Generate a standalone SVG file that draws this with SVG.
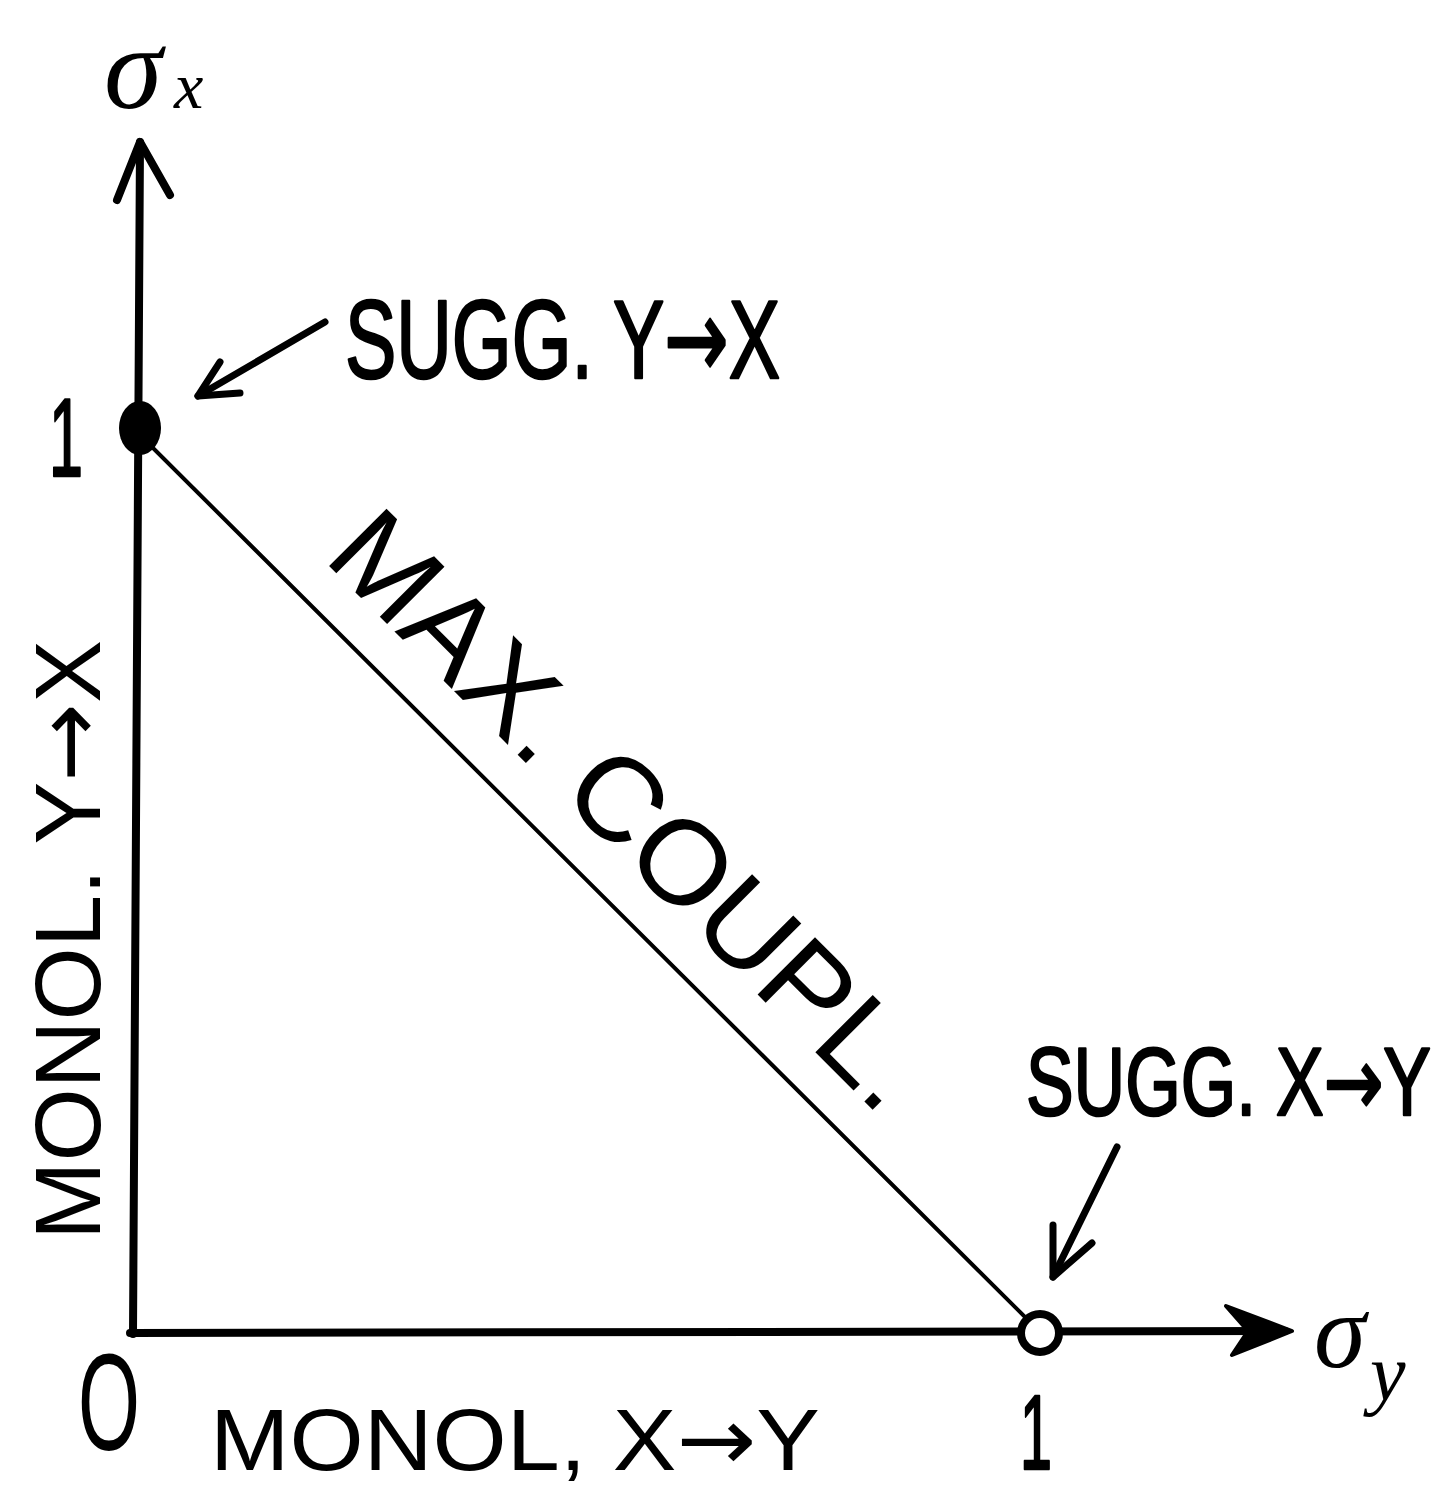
<svg xmlns="http://www.w3.org/2000/svg" width="1447" height="1492" viewBox="0 0 1447 1492">
<style>
.lbl{font-family:"Liberation Sans",Arial,sans-serif;fill:#000}
.heavy{stroke:#000;stroke-width:2.5;stroke-linejoin:round}
.arr{font-family:"DejaVu Sans",sans-serif}
.sym{font-family:"Liberation Serif","Times New Roman",serif;fill:#000;font-style:italic}
.ax{stroke:#000;stroke-width:8;fill:none;stroke-linecap:round;stroke-linejoin:round}
.thin{stroke:#000;stroke-width:4;fill:none;stroke-linecap:round}
.ann{stroke:#000;stroke-width:7;fill:none;stroke-linecap:round;stroke-linejoin:round}
</style>
<rect width="1447" height="1492" fill="#fff"/>
<g id="connectors">
  <line class="thin" x1="150" y1="445" x2="1030" y2="1322"/>
  <g id="arrow-sugg-yx">
    <line class="ann" x1="325" y1="322" x2="198" y2="396"/>
    <polyline class="ann" points="220,362 198,396 240,393"/>
  </g>
  <g id="arrow-sugg-xy">
    <line class="ann" x1="1117" y1="1147" x2="1053" y2="1277"/>
    <polyline class="ann" points="1053,1225 1053,1277 1092,1243"/>
  </g>
</g>
<g id="axis-y">
  <line class="ax" x1="140" y1="142" x2="133" y2="1334"/>
  <polyline class="ax" points="117,200 140,142 170,195"/>
</g>
<g id="axis-x">
  <line class="ax" x1="130" y1="1333" x2="1285" y2="1331"/>
  <polygon points="1292,1331 1226,1306 1248,1331 1232,1355" fill="#000" stroke="#000" stroke-width="4" stroke-linejoin="round"/>
</g>
<g id="point-y1">
  <ellipse cx="140" cy="428" rx="21" ry="27" fill="#000"/>
</g>
<g id="point-x1">
  <circle cx="1040" cy="1333" r="19" fill="#fff" stroke="#000" stroke-width="8"/>
</g>
<g id="label-sigma-x">
  <text class="sym" x="104" y="108" font-size="118">σ</text>
  <text class="sym" x="174" y="108" font-size="66">x</text>
</g>
<g id="label-sigma-y">
  <text class="sym" x="1314" y="1367" font-size="105">σ</text>
  <text class="sym" x="1370" y="1400" font-size="80">y</text>
</g>
<g id="label-origin">
  <text class="lbl" x="78" y="1450" font-size="138" textLength="62" lengthAdjust="spacingAndGlyphs">O</text>
</g>
<g id="tick-y1">
  <text class="lbl heavy" x="66" y="476" font-size="112" text-anchor="middle" textLength="34" lengthAdjust="spacingAndGlyphs">1</text>
</g>
<g id="tick-x1">
  <text class="lbl heavy" x="1036" y="1469" font-size="105" text-anchor="middle" textLength="32" lengthAdjust="spacingAndGlyphs">1</text>
</g>
<g id="label-sugg-yx">
  <text class="lbl heavy" transform="translate(345,378) scale(0.685,1)" x="0" y="0" font-size="112" textLength="635" lengthAdjust="spacingAndGlyphs">SUGG. Y<tspan class="arr">→</tspan>X</text>
</g>
<g id="label-sugg-xy">
  <text class="lbl heavy" transform="translate(1026,1115) scale(0.743,1)" x="0" y="0" font-size="96" textLength="545" lengthAdjust="spacingAndGlyphs">SUGG. X<tspan class="arr">→</tspan>Y</text>
</g>
<g id="label-monol-xy">
  <text class="lbl" x="210" y="1470" font-size="88" textLength="610" lengthAdjust="spacingAndGlyphs">MONOL, X<tspan class="arr">→</tspan>Y</text>
</g>
<g id="label-monol-yx">
  <text class="lbl" transform="translate(100,1240) rotate(-90)" x="0" y="0" font-size="92" textLength="600" lengthAdjust="spacingAndGlyphs">MONOL. Y<tspan class="arr">→</tspan>X</text>
</g>
<g id="label-max-coupl">
  <text class="lbl" transform="translate(322,559) rotate(45)" x="0" y="0" font-size="118" textLength="790" lengthAdjust="spacingAndGlyphs">MAX. COUPL.</text>
</g>
</svg>
